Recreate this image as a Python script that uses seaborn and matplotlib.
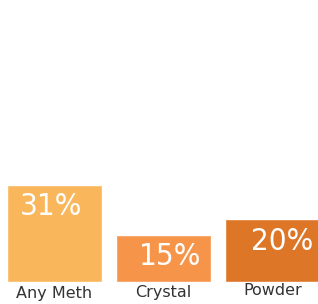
import matplotlib
matplotlib.use("Agg")
import matplotlib.pyplot as plt
import seaborn as sns
import pandas as pd

categories = ["Any Meth", "Crystal", "Powder"]
values = [31, 15, 20]
labels = ["31%", "15%", "20%"]
colors = ["#F9B65B", "#F6954A", "#DE7628"]

sns.set_style("white")
plt.rcParams['font.family'] = ['DejaVu Sans']

df = pd.DataFrame({"cat": categories, "val": values})

fig = plt.figure(figsize=(3.18, 3.04), dpi=100)
ax = fig.add_axes([0, 22/304, 1, 282/304])
sns.barplot(data=df, x="cat", y="val", hue="cat", palette=colors, width=0.87,
            legend=False, ax=ax, saturation=1)
ax.set_xlim(-0.5, 2.42)
ax.set_ylim(0, 90)
ax.set_xlabel("")
ax.set_ylabel("")
ax.set_yticks([])
for s in ax.spines.values():
    s.set_visible(False)
ax.tick_params(axis='x', length=0, pad=3, labelsize=11.5, labelcolor="#333333")
for i, t in enumerate(ax.get_xticklabels()):
    t.set_y([0, 0.005, 0.011][i])

offsets = [-0.03, 0.06, 0.09]
for i, (v, lab) in enumerate(zip(values, labels)):
    ax.text(i + offsets[i], v - 2.3, lab, ha="center", va="top", color="white",
            fontsize=22.5, family=["DejaVu Sans"], fontstretch="condensed",
            fontweight="light")

fig.savefig("out.png", dpi=100)
